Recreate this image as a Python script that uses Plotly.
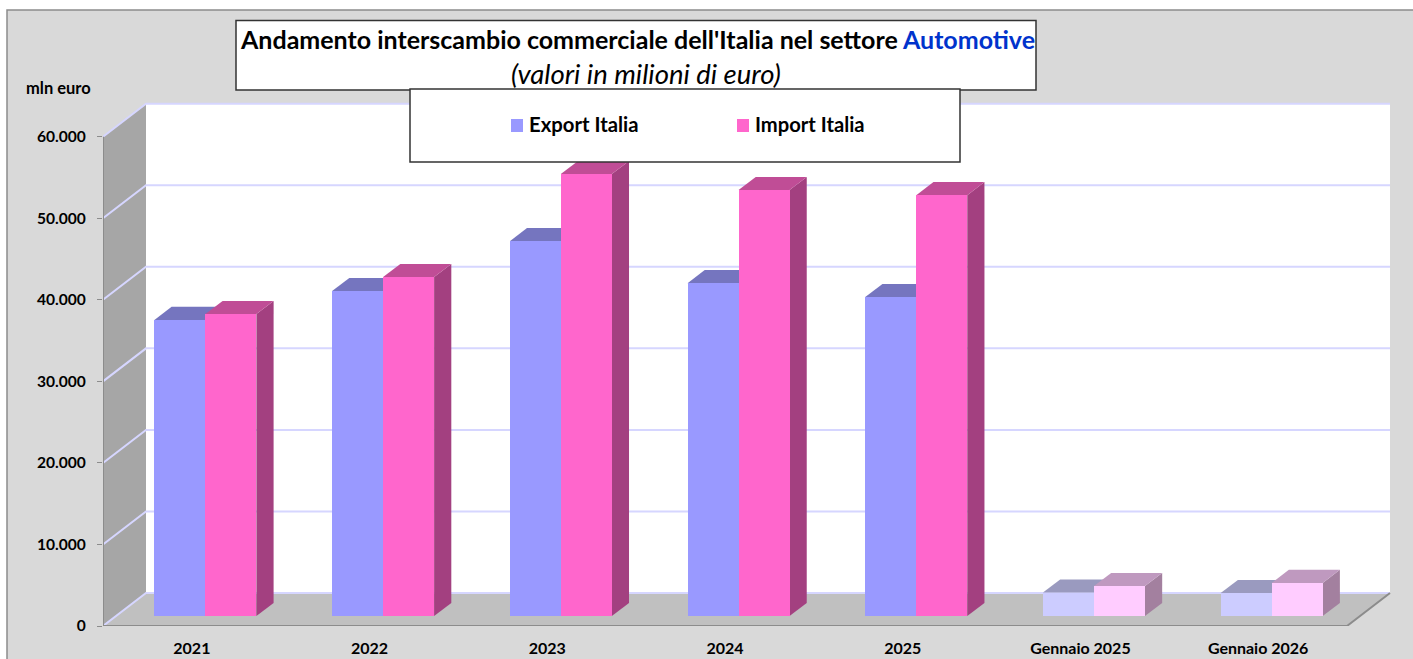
import plotly.graph_objects as go

# ---- data -----------------------------------------------------------------
categories = ["2021", "2022", "2023", "2024", "2025", "Gennaio 2025", "Gennaio 2026"]
export_italia = [36300, 39850, 45980, 40830, 39120, 2880, 2820]
import_italia = [37030, 41570, 54200, 52240, 51620, 3680, 4050]
y_ticks = [0, 10000, 20000, 30000, 40000, 50000, 60000]
y_tick_labels = ["0", "10.000", "20.000", "30.000", "40.000", "50.000", "60.000"]

# ---- page geometry (pixels) ----------------------------------------------
W, H = 1413, 659
L, R, T, B = 103, 22, 100, 33
plot_w, plot_h = W - L - R, H - T - B
cat_px = (1347 - L) / len(categories)
val_px = 81.55 / 10000
x_max = plot_w / cat_px
y_max = plot_h / val_px
depth_x = 43 / cat_px        # floor depth in category units
depth_y = 33 / val_px        # floor depth in value units
bar_w = 51 / cat_px
side = 38.5 / cat_px
d0, d1 = 0.3, 0.7            # bars stand between these floor depths
n = len(categories)
wall_top = y_ticks[-1] + depth_y

def px(x):
    return (x - L) / plot_w

def py(y):
    return 1 - (y - T) / plot_h

def poly(points, fill, layer="below"):
    path = "M" + "L".join(f"{x},{y}" for x, y in points) + "Z"
    return dict(type="path", path=path, xref="x", yref="y", fillcolor=fill,
                line=dict(width=0), layer=layer)

def seg(points, color, width=1.5):
    path = "M" + "L".join(f"{x},{y}" for x, y in points)
    return dict(type="path", path=path, xref="x", yref="y",
                line=dict(color=color, width=width), layer="below")

def box(x0, y0, x1, y1, fill, line, width=1.5, layer="above"):
    return dict(type="rect", xref="paper", yref="paper", x0=px(x0), x1=px(x1),
                y0=py(y1), y1=py(y0), fillcolor=fill,
                line=dict(color=line, width=width), layer=layer)

GRID = "#d6d6ff"
shapes = [box(7, 10, 1430, 680, "#d9d9d9", "#8c8c8c", 1.5, "below")]
# walls and floor
shapes.append(poly([(depth_x, depth_y), (n + depth_x, depth_y), (n + depth_x, wall_top), (depth_x, wall_top)], "#ffffff"))
shapes.append(poly([(0, 0), (depth_x, depth_y), (depth_x, wall_top), (0, y_ticks[-1])], "#a6a6a6"))
shapes.append(poly([(0, 0), (n, 0), (n + depth_x, depth_y), (depth_x, depth_y)], "#c0c0c0"))
# gridlines
for v in y_ticks:
    shapes.append(seg([(0, v), (depth_x, v + depth_y), (n + depth_x, v + depth_y)], GRID, 2))
# front edges
shapes.append(seg([(0, 0), (0, y_ticks[-1])], "#8c8c8c", 2))
shapes.append(seg([(0, 0), (n, 0), (n + depth_x, depth_y)], "#8c8c8c", 2))

# depth faces of the bars, built from the values
bar_x_exp, bar_x_imp = [], []
base = d0 * depth_y
for i in range(n):
    x_front = i + side + d0 * depth_x
    bar_x_exp.append(x_front + bar_w / 2)
    bar_x_imp.append(x_front + bar_w * 1.5)
    faded = i >= 5
    for k, vals in enumerate((export_italia, import_italia)):
        x0 = x_front + k * bar_w
        x1 = x0 + bar_w
        top = base + vals[i]
        ddx = (d1 - d0) * depth_x
        ddy = (d1 - d0) * depth_y
        if k == 0:
            c_top, c_side = ("#9a9abf", "#8080a0") if faded else ("#7575bf", "#5c5c99")
        else:
            c_top, c_side = ("#bf99bf", "#a3809f") if faded else ("#c04d96", "#a34080")
        shapes.append(poly([(x1, base), (x1, top), (x1 + ddx, top + ddy), (x1 + ddx, base + ddy)], c_side))
        shapes.append(poly([(x0, top), (x1, top), (x1 + ddx, top + ddy), (x0 + ddx, top + ddy)], c_top))

# overlaid boxes and legend swatches
shapes.append(box(236, 20.5, 1036, 90, "#ffffff", "#333333"))
shapes.append(box(410, 89, 960, 162, "#ffffff", "#333333"))
shapes.append(box(511, 119, 523, 132, "#9999ff", "#9999ff", 0))
shapes.append(box(737, 119, 749, 132, "#ff66cc", "#ff66cc", 0))

fig = go.Figure()
fig.add_bar(name="Export Italia", x=bar_x_exp, y=export_italia, base=base, width=bar_w,
            marker=dict(color=["#9999ff"] * 5 + ["#ccccff"] * 2, line_width=0), showlegend=False, hoverinfo="skip")
fig.add_bar(name="Import Italia", x=bar_x_imp, y=import_italia, base=base, width=bar_w,
            marker=dict(color=["#ff66cc"] * 5 + ["#ffccff"] * 2, line_width=0), showlegend=False, hoverinfo="skip")

FONT = "Lato"
def note(text, x, y, size, bold=True, italic=False, anchor="center"):
    return dict(xref="paper", yref="paper", x=px(x), y=py(y), text=text, showarrow=False,
                xanchor=anchor, yanchor="middle",
                font=dict(family=FONT, size=size, color="#000000",
                          weight="bold" if bold else "normal",
                          style="italic" if italic else "normal"))

annotations = [
    note("Andamento interscambio commerciale dell'Italia nel settore <span style='color:#0033cc'>Automotive</span>", 637, 39, 25),
    note("(valori in milioni di euro)", 646, 73, 27.5, bold=False, italic=True),
    note("mln euro", 58, 87.5, 16.5),
    note("Export Italia", 527, 124, 20.3, anchor="left"),
    note("Import Italia", 753, 124, 20.2, anchor="left"),
]

fig.update_layout(
    width=W, height=H, autosize=False,
    margin=dict(l=L, r=R, t=T, b=B, pad=0),
    paper_bgcolor="#ffffff", plot_bgcolor="rgba(0,0,0,0)",
    barmode="overlay", bargap=0, shapes=shapes, annotations=annotations,
    font=dict(family=FONT, color="#000000"),
    xaxis=dict(range=[0, x_max], showgrid=False, zeroline=False, showline=False, automargin=False,
               tickmode="array", tickvals=[i + 0.5 for i in range(n)], ticktext=categories,
               ticks="", ticklabelstandoff=11,
               tickfont=dict(family=FONT, size=16, weight="bold")),
    yaxis=dict(range=[0, y_max], showgrid=False, zeroline=False, showline=False, automargin=False,
               tickmode="array", tickvals=y_ticks, ticktext=y_tick_labels,
               ticks="outside", ticklen=5, tickwidth=1, tickcolor="#8c8c8c", ticklabelstandoff=8,
               tickfont=dict(family=FONT, size=15.6, weight="bold")),
)
fig.write_html("out.html", config=dict(displayModeBar=False),
               post_script="document.body.style.margin='0';document.body.style.overflow='hidden';")
